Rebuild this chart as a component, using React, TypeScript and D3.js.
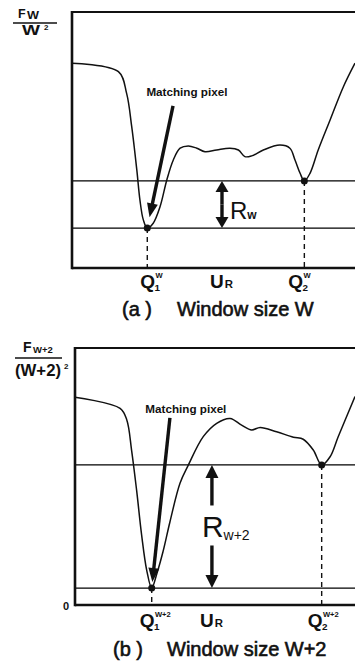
import React from 'react';
import * as d3 from 'd3';

const WIDTH = 355;
const HEIGHT = 665;
const FONT = "'Liberation Sans', Arial, Helvetica, sans-serif";

// (a) window size W : normalized position along the search range vs F_W / W²
const posA = [0, 0.164, 0.193, 0.211, 0.229, 0.24, 0.252, 0.266, 0.287, 0.311, 0.335, 0.358, 0.382, 0.411, 0.441, 0.47, 0.511, 0.558, 0.588, 0.611, 0.635, 0.676, 0.735, 0.77, 0.788, 0.806, 0.821, 0.841, 0.87, 0.912, 0.959, 1.0];
const valA = [0.8, 0.767, 0.682, 0.552, 0.383, 0.266, 0.188, 0.156, 0.175, 0.239, 0.344, 0.422, 0.468, 0.477, 0.468, 0.454, 0.461, 0.468, 0.461, 0.435, 0.438, 0.461, 0.48, 0.468, 0.422, 0.37, 0.34, 0.37, 0.461, 0.578, 0.708, 0.8];
const minimaA = [7, 26]; // indices of Q1, Q2

// (b) window size W+2 : F_{W+2} / (W+2)²
const posB = [0, 0.161, 0.185, 0.202, 0.22, 0.238, 0.256, 0.274, 0.292, 0.314, 0.339, 0.375, 0.405, 0.458, 0.506, 0.554, 0.595, 0.631, 0.661, 0.72, 0.78, 0.815, 0.851, 0.881, 0.911, 0.94, 1.0];
const valB = [0.808, 0.765, 0.72, 0.603, 0.447, 0.272, 0.136, 0.066, 0.121, 0.206, 0.323, 0.474, 0.545, 0.655, 0.707, 0.726, 0.7, 0.681, 0.691, 0.674, 0.653, 0.645, 0.603, 0.545, 0.577, 0.655, 0.811];
const minimaB = [7, 23];

type Frame = { left: number; right: number; top: number; bottom: number };

function head(tx: number, ty: number, fx: number, fy: number, len: number, half: number) {
  const dx = tx - fx;
  const dy = ty - fy;
  const n = Math.hypot(dx, dy) || 1;
  const ux = dx / n, uy = dy / n;
  const bx = tx - ux * len, by = ty - uy * len;
  const px = -uy * half, py = ux * half;
  return {
    points: `${tx},${ty} ${bx + px},${by + py} ${bx - px},${by - py}`,
    bx,
    by,
  };
}

function Arrow({ x1, y1, x2, y2, len = 13, half = 6.5, width = 3.2 }: any) {
  const h = head(x2, y2, x1, y1, len, half);
  return (
    <g>
      <line x1={x1} y1={y1} x2={h.bx + (x2 - x1) * 0.01} y2={h.by + (y2 - y1) * 0.01} stroke="#111" strokeWidth={width} />
      <polygon points={h.points} fill="#111" />
    </g>
  );
}

function QLabel({ x, y, sup, sub, size }: any) {
  const qw = size * 0.8;
  return (
    <g fontFamily={FONT} fontWeight="bold" fill="#111">
      <text x={x} y={y} fontSize={size}>Q</text>
      <text x={x + qw} y={y - size * 0.52} fontSize={size * 0.4}>{sup}</text>
      <text x={x + qw - 1} y={y + 2.5} fontSize={size * 0.52}>{sub}</text>
    </g>
  );
}

function Panel(props: any) {
  const { pos, val, minima, frame, variant } = props as { pos: number[]; val: number[]; minima: number[]; frame: Frame; variant: 'a' | 'b' };
  const x = d3.scaleLinear().domain([0, 1]).range([frame.left, frame.right]);
  const y = d3.scaleLinear().domain([0, 1]).range([frame.bottom, frame.top]);
  const pts = pos.map((p, i) => [p, val[i]] as [number, number]);
  const path = d3
    .line<[number, number]>()
    .x((d) => x(d[0]))
    .y((d) => y(d[1]))
    .curve(d3.curveCatmullRom.alpha(0.5))(pts) as string;

  const [i1, i2] = minima;
  const q1x = x(pos[i1]), q1y = y(val[i1]);
  const q2x = x(pos[i2]), q2y = y(val[i2]);
  const farRight = WIDTH + 2;

  const isA = variant === 'a';
  // annotation anchors in data units
  const label = isA ? [0.406, 0.672] : [0.396, 0.747];
  const tail = isA ? [0.357, 0.633] : [0.339, 0.728];
  const rx = x(isA ? 0.53 : 0.489);
  const tx = x(tail[0]), ty = y(tail[1]);
  const gap = isA ? 11 : 6;
  const dd = Math.hypot(q1x - tx, q1y - ty);
  const tipX = q1x - ((q1x - tx) / dd) * gap;
  const tipY = q1y - ((q1y - ty) / dd) * gap;

  const qSize = 19;
  const qBase = frame.bottom + (isA ? 20 : 22);
  const sup = isA ? 'W' : 'W+2';

  return (
    <g>
      {/* reference levels through the two minima */}
      <line x1={frame.left} x2={farRight} y1={q2y} y2={q2y} stroke="#000" strokeWidth={1.3} />
      <line x1={frame.left} x2={farRight} y1={q1y} y2={q1y} stroke="#000" strokeWidth={1.3} />
      {/* drop lines to the axis */}
      <line x1={q1x} x2={q1x} y1={q1y} y2={frame.bottom} stroke="#111" strokeWidth={1.4} strokeDasharray="5 4" />
      <line x1={q2x} x2={q2x} y1={q2y} y2={frame.bottom} stroke="#111" strokeWidth={1.4} strokeDasharray="5 4" />
      {/* frame */}
      <line x1={frame.left} x2={farRight} y1={frame.top} y2={frame.top} stroke="#111" strokeWidth={2.2} />
      <line x1={frame.left} x2={frame.left} y1={frame.top - 1} y2={frame.bottom + 1.2} stroke="#111" strokeWidth={2.6} />
      <line x1={frame.left} x2={farRight} y1={frame.bottom} y2={frame.bottom} stroke="#111" strokeWidth={2.6} />
      {/* matching cost curve */}
      <path d={path} fill="none" stroke="#111" strokeWidth={1.5} />
      <circle cx={q1x} cy={q1y} r={3.5} fill="#111" />
      <circle cx={q2x} cy={q2y} r={3.5} fill="#111" />

      {/* matching pixel callout */}
      <text x={x(label[0])} y={y(label[1])} textAnchor="middle" fontFamily={FONT} fontWeight="bold" fontSize={10.5} fill="#111" textLength={81} lengthAdjust="spacingAndGlyphs">
        Matching pixel
      </text>
      <Arrow x1={tx} y1={ty} x2={tipX} y2={tipY} len={14} half={5.5} width={3.4} />

      {/* range R between the two minima */}
      {isA ? (
        <g>
          <Arrow x1={rx} y1={(q1y + q2y) / 2} x2={rx} y2={q2y} len={11} half={6.5} width={3.4} />
          <Arrow x1={rx} y1={(q1y + q2y) / 2} x2={rx} y2={q1y} len={11} half={6.5} width={3.4} />
          <text x={rx + 8} y={(q1y + q2y) / 2 + 14.5} fontFamily={FONT} fill="#111">
            <tspan fontSize={24}>R</tspan>
            <tspan fontSize={12} fontWeight="bold">w</tspan>
          </text>
        </g>
      ) : (
        <g>
          <Arrow x1={rx} y1={(q1y + q2y) / 2 - 21} x2={rx} y2={q2y} len={13} half={6.5} width={3.4} />
          <Arrow x1={rx} y1={(q1y + q2y) / 2 + 19} x2={rx} y2={q1y} len={13} half={6.5} width={3.4} />
          <text x={rx - 10} y={(q1y + q2y) / 2 + 10.5} fontFamily={FONT} fill="#111">
            <tspan fontSize={30}>R</tspan>
            <tspan fontSize={14} dy={3}>w+2</tspan>
          </text>
        </g>
      )}

      {/* x-axis labels */}
      <QLabel x={q1x - (isA ? 7 : 12)} y={qBase} sup={sup} sub="1" size={qSize} />
      <QLabel x={q2x - (isA ? 16 : 14)} y={qBase} sup={sup} sub="2" size={qSize} />
      <text x={rx - 12} y={qBase} fontFamily={FONT} fontWeight="bold" fill="#111">
        <tspan fontSize={qSize}>U</tspan>
        <tspan fontSize={qSize * 0.6} dx={1}>R</tspan>
      </text>
      {!isA && (
        <text x={frame.left - 6} y={frame.bottom + 5} textAnchor="end" fontFamily={FONT} fontWeight="bold" fontSize={11} fill="#111">
          0
        </text>
      )}
    </g>
  );
}

export default function App() {
  const frameA: Frame = { left: 72, right: 355, top: 12, bottom: 268 };
  const frameB: Frame = { left: 75, right: 355, top: 348, bottom: 605 };
  return (
    <svg width={WIDTH} height={HEIGHT} viewBox={`0 0 ${WIDTH} ${HEIGHT}`} style={{ position: 'absolute', left: 0, top: 0, background: '#fff' }}>
      <rect width={WIDTH} height={HEIGHT} fill="#fff" />
      {/* y-axis title (a) */}
      <g fontFamily={FONT} fill="#111" fontWeight="bold">
        <text x={18} y={18} fontSize={12.5}>F</text>
        <text x={27} y={19} fontSize={10} textLength={12} lengthAdjust="spacingAndGlyphs">W</text>
        <line x1={13} x2={57} y1={23} y2={23} stroke="#111" strokeWidth={1.6} />
        <text x={22} y={35} fontSize={15} textLength={18} lengthAdjust="spacingAndGlyphs">W</text>
        <text x={44} y={30} fontSize={8}>2</text>
      </g>
      {/* y-axis title (b) */}
      <g fontFamily={FONT} fill="#111" fontWeight="bold">
        <text x={23} y={352} fontSize={14}>F</text>
        <text x={33} y={353} fontSize={9.5}>W+2</text>
        <line x1={15} x2={62} y1={358} y2={358} stroke="#111" strokeWidth={1.6} />
        <text x={15} y={376} fontSize={16.5} textLength={46} lengthAdjust="spacingAndGlyphs">(W+2)</text>
        <text x={64} y={369} fontSize={8}>2</text>
      </g>

      <Panel pos={posA} val={valA} minima={minimaA} frame={frameA} variant="a" />
      <Panel pos={posB} val={valB} minima={minimaB} frame={frameB} variant="b" />

      {/* captions */}
      <text y={316} fontFamily={FONT} fontSize={20} fill="#111" stroke="#111" strokeWidth={0.6}>
        <tspan x={122}>(a )</tspan>
        <tspan x={177}>Window size W</tspan>
      </text>
      <text y={656} fontFamily={FONT} fontSize={20} fill="#111" stroke="#111" strokeWidth={0.6}>
        <tspan x={113}>(b )</tspan>
        <tspan x={167}>Window size W+2</tspan>
      </text>
    </svg>
  );
}
